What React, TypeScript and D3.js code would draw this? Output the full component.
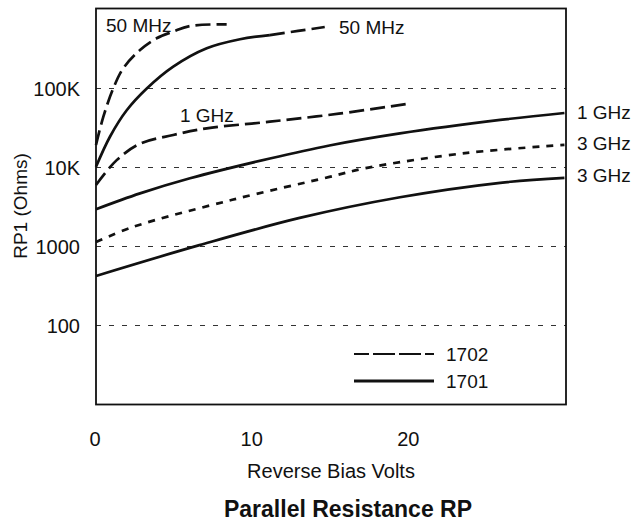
import React from "react";
import * as d3 from "d3";

const yTickValues = [100, 1000, 10000, 100000];
const yTickLabels = ["100", "1000", "10K", "100K"];
const xTickValues = [0, 10, 20];
const xTickLabels = ["0", "10", "20"];

// 1702 50 MHz (dashed)
const v1702_50M = [0, 0.47, 1.1, 1.74, 2.81, 3.87, 4.91, 6.0, 8.34];
const r1702_50M = [19300, 44000, 100000, 180000, 307000, 432000, 524000, 618000, 650000];
// 1701 50 MHz (solid, then dashed extension)
const v1701_50M = [0, 0.89, 1.96, 3.24, 4.93, 7.07, 9.19, 11.1];
const r1701_50M = [10200, 24500, 53000, 100000, 189000, 323000, 420000, 475000];
const v1701_50Mext = [11.1, 12.9, 14.6];
const r1701_50Mext = [475000, 535000, 600000];
// 1702 1 GHz (dashed)
const v1702_1G = [0, 1.32, 2.81, 4.93, 7.07, 11.1, 15.5, 19.9];
const r1702_1G = [6000, 12400, 20000, 25800, 31300, 38000, 48000, 64000];
// 1701 1 GHz (solid)
const v1701_1G = [0, 2.81, 6.0, 11.1, 14.9, 19.4, 25.8, 29.9];
const r1701_1G = [2960, 4700, 7300, 13000, 19000, 27000, 40000, 49000];
// 1702 3 GHz (short dashes)
const v1702_3G = [0, 2.37, 8.7, 14.9, 17.3, 23.7, 29.9];
const r1702_3G = [1140, 1770, 3900, 7600, 9900, 15300, 19300];
// 1701 3 GHz (solid)
const v1701_3G = [0, 6.6, 13, 19.4, 25.8, 29.9];
const r1701_3G = [424, 1040, 2300, 4200, 6400, 7400];

const W = 637, H = 527;
const L = 96, R = 566, T = 9.5, B = 404.5;

export default function App() {
  const x = d3.scaleLinear().domain([0, 30]).range([L, R]);
  const y = d3.scaleLog().domain([10, 1000000]).range([B, T]);
  const line = d3.line<[number, number]>()
    .x(d => x(d[0])).y(d => y(d[1]))
    .curve(d3.curveCatmullRom.alpha(0.5));
  const pts = (v: number[], r: number[]) => v.map((vv, i) => [vv, r[i]] as [number, number]);
  const font = "'Liberation Sans', Arial, Helvetica, sans-serif";
  const ink = "#111";

  const series = [
    { d: pts(v1702_50M, r1702_50M), dash: "15 6" },
    { d: pts(v1701_50M, r1701_50M), dash: "" },
    { d: pts(v1701_50Mext, r1701_50Mext), dash: "15 6" },
    { d: pts(v1702_1G, r1702_1G), dash: "15 6" },
    { d: pts(v1701_1G, r1701_1G), dash: "" },
    { d: pts(v1702_3G, r1702_3G), dash: "7 7" },
    { d: pts(v1701_3G, r1701_3G), dash: "" },
  ];

  return (
    <svg width={W} height={H} style={{ position: "absolute", left: 0, top: 0, background: "#fff" }}>
      <rect x={0} y={0} width={W} height={H} fill="#fff" />
      {yTickValues.map(v => (
        <line key={"g" + v} x1={L} x2={R} y1={y(v)} y2={y(v)} stroke="#333" strokeWidth={1} strokeDasharray="5 8" />
      ))}
      {yTickValues.map((v, i) => (
        <text key={"yl" + v} x={80} y={y(v)} dy="0.36em" textAnchor="end" fontFamily={font} fontSize={20} fill={ink}>{yTickLabels[i]}</text>
      ))}
      {xTickValues.map((v, i) => (
        <text key={"xl" + v} x={x(v) - 1} y={446} textAnchor="middle" fontFamily={font} fontSize={20} fill={ink}>{xTickLabels[i]}</text>
      ))}
      <rect x={L} y={8.5} width={R - L} height={B - 8.5} fill="none" stroke={ink} strokeWidth={1.8} />
      {series.map((s, i) => (
        <path key={"s" + i} d={line(s.d) || ""} fill="none" stroke={ink} strokeWidth={2.7} strokeDasharray={s.dash || undefined} />
      ))}
      <text x={106} y={32} fontFamily={font} fontSize={19} fill={ink}>50 MHz</text>
      <text x={339} y={34} fontFamily={font} fontSize={19} fill={ink}>50 MHz</text>
      <text x={180} y={122} fontFamily={font} fontSize={19} fill={ink}>1 GHz</text>
      <text x={577} y={119} fontFamily={font} fontSize={19} fill={ink}>1 GHz</text>
      <text x={577} y={150} fontFamily={font} fontSize={19} fill={ink}>3 GHz</text>
      <text x={577} y={182} fontFamily={font} fontSize={19} fill={ink}>3 GHz</text>
      <line x1={354} x2={434} y1={354} y2={354} stroke={ink} strokeWidth={2} strokeDasharray="15 4 22 4 22 4" />
      <text x={446} y={361} fontFamily={font} fontSize={19} fill={ink}>1702</text>
      <line x1={354} x2={434} y1={381} y2={381} stroke={ink} strokeWidth={2.8} />
      <text x={446} y={388} fontFamily={font} fontSize={19} fill={ink}>1701</text>
      <text x={331} y={478} textAnchor="middle" fontFamily={font} fontSize={20} fill={ink}>Reverse Bias Volts</text>
      <text x={348} y={517} textAnchor="middle" fontFamily={font} fontSize={23} fontWeight="bold" fill={ink}>Parallel Resistance RP</text>
      <text transform={`translate(27, 206) rotate(-90)`} textAnchor="middle" fontFamily={font} fontSize={19} fill={ink}>RP1 (Ohms)</text>
    </svg>
  );
}
